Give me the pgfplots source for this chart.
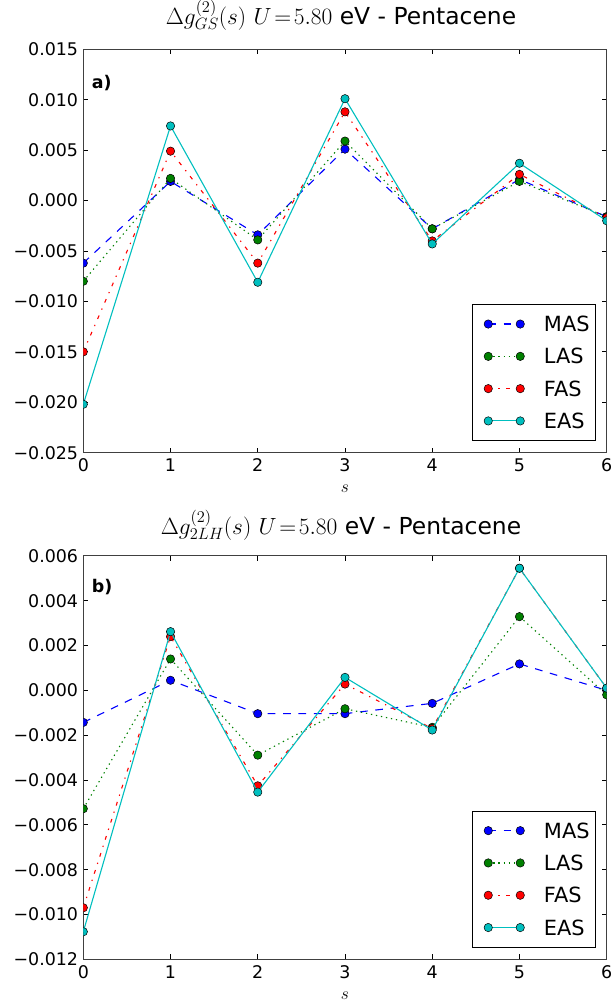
\documentclass[border=0pt]{standalone}
\usepackage{fix-cm}
\usepackage{fontspec}
\setmainfont{DejaVu Sans}
\usepackage{pgfplots}
\pgfplotsset{compat=1.18}
\definecolor{mplb}{rgb}{0,0,1}
\definecolor{mplg}{rgb}{0,0.5,0}
\definecolor{mplr}{rgb}{1,0,0}
\definecolor{mplc}{rgb}{0,0.75,0.75}
\pgfplotsset{
  panel/.style={
    scale only axis, width=523.4bp, height=403.4bp, anchor=south west,
    xmin=0, xmax=6, xtick={0,1,2,3,4,5,6}, xticklabels={0,1,2,3,4,5,6},
    scaled y ticks=false, scaled x ticks=false,
    axis line style={line width=1bp, black!75},
    major tick length=5bp, tick style={line width=0.8bp, black},
    tick label style={font=\fontsize{17.5}{21}\selectfont},
    xticklabel style={anchor=base, yshift=-19bp},
    yticklabel style={anchor=east, inner sep=0pt, xshift=-5bp},
    xlabel={$s$},
    xlabel style={font=\fontsize{17.5}{21}\selectfont, at={(axis description cs:0.5,0)}, anchor=base, yshift=-40bp},
    clip marker paths=true,
    legend image code/.code={\path (-9.7bp,0bp); \draw[mark repeat=1,mark phase=1,#1] plot coordinates {(0bp,0bp) (32bp,0bp)};},
    legend cell align=left,
    legend style={at={(1,0)}, anchor=south east, xshift=-10.7bp, yshift=11.7bp,
      draw=black, line width=0.8bp, fill=white,
      font=\fontsize{21}{25}\selectfont,
      nodes={inner sep=0bp, text height=15.3bp, text depth=0bp},
      row sep=17bp, column sep=19.5bp, inner xsep=6bp, inner ysep=12bp},
  },
  sMAS/.style={color=mplb, line width=1.1bp, dash pattern=on 7.7bp off 7.7bp, mark=*, mark size=4.2bp, mark options={solid, draw=black, line width=0.5bp, fill=mplb}},
  sLAS/.style={color=mplg, line width=1.1bp, dash pattern=on 1.3bp off 3.8bp, mark=*, mark size=4.2bp, mark options={solid, draw=black, line width=0.5bp, fill=mplg}},
  sFAS/.style={color=mplr, line width=1.1bp, dash pattern=on 3.8bp off 6.4bp on 1.3bp off 6.4bp, mark=*, mark size=4.2bp, mark options={solid, draw=black, line width=0.5bp, fill=mplr}},
  sEAS/.style={color=mplc, line width=1.1bp, solid, mark=*, mark size=4.2bp, mark options={solid, draw=black, line width=0.5bp, fill=mplc}},
}
\begin{document}
\begin{tikzpicture}
\path[use as bounding box] (0bp,0bp) rectangle (612bp,1008bp);
% ---------------- top panel ----------------
\begin{axis}[panel, at={(83.3bp,555.3bp)},
  ymin=-0.025, ymax=0.015,
  ytick={-0.025,-0.02,-0.015,-0.01,-0.005,0,0.005,0.01,0.015},
  yticklabels={−0.025,−0.020,−0.015,−0.010,−0.005,0.000,0.005,0.010,0.015}]
\addplot[sMAS] coordinates {(0,-0.0062) (1,0.0019) (2,-0.0034) (3,0.0051) (4,-0.0028) (5,0.0021) (6,-0.0016)};
\addlegendentry{MAS}
\addplot[sLAS] coordinates {(0,-0.0080) (1,0.0022) (2,-0.0039) (3,0.0059) (4,-0.0028) (5,0.0019) (6,-0.0016)};
\addlegendentry{LAS}
\addplot[sFAS] coordinates {(0,-0.0150) (1,0.0049) (2,-0.0062) (3,0.0088) (4,-0.0040) (5,0.0026) (6,-0.0017)};
\addlegendentry{FAS}
\addplot[sEAS] coordinates {(0,-0.0202) (1,0.0074) (2,-0.0081) (3,0.0101) (4,-0.0043) (5,0.0037) (6,-0.0020)};
\addlegendentry{EAS}
\node[anchor=base west, inner sep=0pt, font=\bfseries\fontsize{17.5}{21}\selectfont] at (rel axis cs:0,1) [xshift=8.4bp, yshift=-39bp] {a)};
\end{axis}
\node[anchor=base, inner sep=0pt, font=\fontsize{23.5}{27}\selectfont] at (341bp,983bp) {$\Delta g^{(2)}_{GS}(s)\ U\!=\!5.80$ eV - Pentacene};
% ---------------- bottom panel ----------------
\begin{axis}[panel, at={(83.3bp,48.7bp)},
  ymin=-0.012, ymax=0.006,
  ytick={-0.012,-0.01,-0.008,-0.006,-0.004,-0.002,0,0.002,0.004,0.006},
  yticklabels={−0.012,−0.010,−0.008,−0.006,−0.004,−0.002,0.000,0.002,0.004,0.006}]
\addplot[sMAS] coordinates {(0,-0.00143) (1,0.00045) (2,-0.00104) (3,-0.00104) (4,-0.00058) (5,0.00118) (6,0.0)};
\addlegendentry{MAS}
\addplot[sLAS] coordinates {(0,-0.00528) (1,0.0014) (2,-0.00289) (3,-0.00082) (4,-0.00165) (5,0.00329) (6,-0.0002)};
\addlegendentry{LAS}
\addplot[sFAS] coordinates {(0,-0.0097) (1,0.0024) (2,-0.00426) (3,0.00028) (4,-0.0017) (5,0.00545) (6,0.0001)};
\addlegendentry{FAS}
\addplot[sEAS] coordinates {(0,-0.01077) (1,0.00262) (2,-0.00454) (3,0.00058) (4,-0.00177) (5,0.00545) (6,0.0001)};
\addlegendentry{EAS}
\node[anchor=base west, inner sep=0pt, font=\bfseries\fontsize{17.5}{21}\selectfont] at (rel axis cs:0,1) [xshift=8.4bp, yshift=-37bp] {b)};
\end{axis}
\node[anchor=base, inner sep=0pt, font=\fontsize{23.5}{27}\selectfont] at (341bp,473bp) {$\Delta g^{(2)}_{2LH}(s)\ U\!=\!5.80$ eV - Pentacene};
\end{tikzpicture}
\end{document}
